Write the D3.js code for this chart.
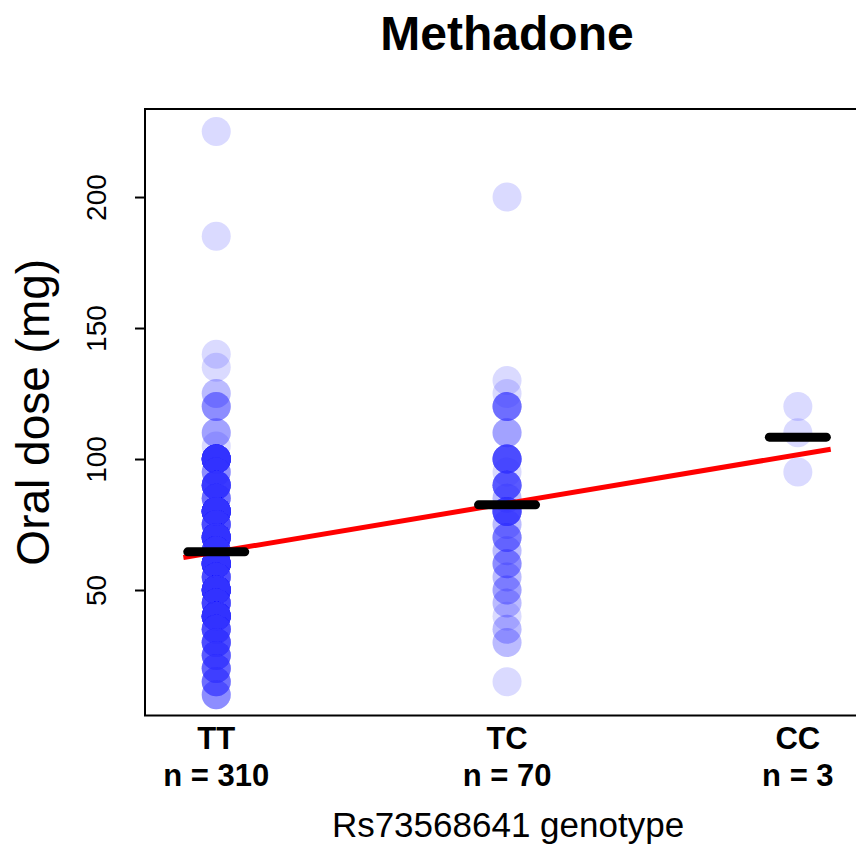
<!DOCTYPE html>
<html>
<head>
<meta charset="utf-8">
<script src="https://cdnjs.cloudflare.com/ajax/libs/d3/7.8.5/d3.min.js"></script>
<style>
  body { margin: 0; background: #fff; }
  svg { display: block; font-family: "Liberation Sans", Arial, Helvetica, sans-serif; }
</style>
</head>
<body>
<svg id="chart" width="856" height="846"></svg>
<script>
// genotype groups, in x order
const genotypes = ["TT", "TC", "CC"];
const nLabels = ["n = 310", "n = 70", "n = 3"];

// oral doses (mg) seen in each group, and how many patients sit on each dose
const ttDoses  = [225, 185, 140, 135, 125, 120, 110, 105, 100, 95, 90, 85, 80, 75, 70, 65, 60, 55, 50, 45, 40, 35, 30, 25, 20, 15, 10];
const ttCounts = [1,   1,   1,   1,   2,   4,   3,   1,   30,  4,  15, 6,  33, 10, 25, 12, 37, 10, 30, 12, 27, 10, 10, 8,  7,  6,  4];
const tcDoses  = [200, 130, 125, 120, 110, 100, 95, 90, 85, 80, 75, 70, 65, 60, 55, 50, 45, 40, 35, 30, 15];
const tcCounts = [1,   1,   1,   6,   3,   10,  1,  8,  2,  11, 2,  5,  2,  4,  2,  3,  2,  1,  2,  2,  1];
const ccDoses  = [120, 110, 95];
const ccCounts = [1,   1,   1];

const yTicks = [50, 100, 150, 200];

// expand to one record per patient
const groups = [[ttDoses, ttCounts], [tcDoses, tcCounts], [ccDoses, ccCounts]];
const points = [];
groups.forEach(([doses, counts], g) => {
  doses.forEach((d, i) => {
    for (let k = 0; k < counts[i]; k++) points.push({ g: g + 1, dose: d });
  });
});

// group means (black bars)
const means = groups.map((_, g) => d3.mean(points.filter(p => p.g === g + 1), p => p.dose));

// least squares fit of dose on genotype code (red line)
const xbar = d3.mean(points, p => p.g);
const ybar = d3.mean(points, p => p.dose);
const slope = d3.sum(points, p => (p.g - xbar) * (p.dose - ybar)) / d3.sum(points, p => (p.g - xbar) ** 2);
const intercept = ybar - slope * xbar;

const svg = d3.select("#chart");

const plotLeft = 145, plotTop = 109, plotBottom = 715.5;
const x = d3.scaleLinear().domain([0.755, 3.25]).range([plotLeft, plotLeft + 2.495 * 290.8]);
const y = d3.scaleLinear().domain([2.1, 233.6]).range([plotBottom, plotTop]);

// points
svg.append("g")
  .selectAll("circle")
  .data(points)
  .join("circle")
  .attr("cx", d => x(d.g))
  .attr("cy", d => y(d.dose))
  .attr("r", 14.5)
  .attr("fill", "#3333ff")
  .attr("fill-opacity", 0.18);

// regression line
const x0 = 0.887, x1 = 3.113;
svg.append("line")
  .attr("x1", x(x0)).attr("y1", y(intercept + slope * x0))
  .attr("x2", x(x1)).attr("y2", y(intercept + slope * x1))
  .attr("stroke", "#ff0000")
  .attr("stroke-width", 5);

// mean bars
svg.append("g")
  .selectAll("line")
  .data(means)
  .join("line")
  .attr("x1", (d, i) => x(i + 1 - 0.098))
  .attr("x2", (d, i) => x(i + 1 + 0.098))
  .attr("y1", d => y(d))
  .attr("y2", d => y(d))
  .attr("stroke", "#000")
  .attr("stroke-width", 9)
  .attr("stroke-linecap", "round");

// box
svg.append("rect")
  .attr("x", plotLeft).attr("y", plotTop)
  .attr("width", x(3.25) - plotLeft).attr("height", plotBottom - plotTop)
  .attr("fill", "none")
  .attr("stroke", "#000")
  .attr("stroke-width", 2);

// y axis
const yAxis = svg.append("g")
  .attr("transform", `translate(${plotLeft},0)`)
  .call(d3.axisLeft(y).tickValues(yTicks).tickSize(10).tickPadding(0));
yAxis.select(".domain").remove();
yAxis.selectAll(".tick line").attr("stroke", "#000").attr("stroke-width", 2);
yAxis.selectAll(".tick text").remove();
yAxis.selectAll(".tick")
  .append("text")
  .attr("transform", "translate(-39,0) rotate(-90)")
  .attr("text-anchor", "middle")
  .attr("fill", "#000")
  .style("font-size", "28px")
  .style("font-family", "'Liberation Sans', Arial, sans-serif")
  .text(d => d);

// group labels
svg.append("g")
  .selectAll("text")
  .data(genotypes)
  .join("text")
  .attr("x", (d, i) => x(i + 1))
  .attr("y", 749)
  .attr("text-anchor", "middle")
  .style("font-size", "31px")
  .style("font-weight", "bold")
  .text(d => d);

svg.append("g")
  .selectAll("text")
  .data(nLabels)
  .join("text")
  .attr("x", (d, i) => x(i + 1))
  .attr("y", 786)
  .attr("text-anchor", "middle")
  .style("font-size", "31px")
  .style("font-weight", "bold")
  .text(d => d);

// titles
svg.append("text")
  .attr("x", 507).attr("y", 50)
  .attr("text-anchor", "middle")
  .style("font-size", "48px")
  .style("font-weight", "bold")
  .text("Methadone");

svg.append("text")
  .attr("x", 508).attr("y", 837)
  .attr("text-anchor", "middle")
  .style("font-size", "35px")
  .text("Rs73568641 genotype");

svg.append("text")
  .attr("transform", `translate(49,${(plotTop + plotBottom) / 2}) rotate(-90)`)
  .attr("text-anchor", "middle")
  .style("font-size", "46px")
  .text("Oral dose (mg)");
</script>
</body>
</html>
